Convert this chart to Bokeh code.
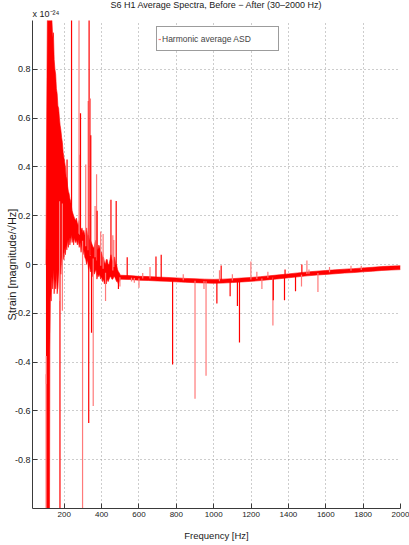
import numpy as np
from bokeh.plotting import figure
from bokeh.models import (ColumnDataSource, Range1d, FixedTicker, Title, Legend, LegendItem)
from bokeh.embed import file_html
from bokeh.resources import INLINE

# ---------------- data (strain in units of 1e-24 /sqrt(Hz)) ----------------
band_freq = [102, 106, 110, 116, 121, 123, 126, 130, 134, 138, 142, 146, 150, 154, 158, 162, 166, 170,
             174, 178, 182, 186, 190, 194, 198, 202, 206, 210, 214, 218, 222, 226, 230, 234, 238, 242,
             246, 250, 255, 260, 265, 270, 275, 280, 285, 290, 295, 300, 305, 310, 315, 320, 325, 330,
             335, 340, 345, 350, 355, 360, 365, 370, 375, 380, 385, 390, 395, 400, 405, 410, 415, 420,
             425, 430, 435, 440, 445, 450, 455, 460, 465, 470, 475, 480, 485, 490, 495, 500,
             550, 600, 650, 700, 750, 800, 850, 900, 950, 1000, 1050, 1100, 1150, 1200, 1250, 1300,
             1350, 1400, 1450, 1500, 1550, 1600, 1650, 1700, 1750, 1800, 1850, 1900, 1950, 2000]
band_hi = [0.0, 0.6, 1.05, 1.05, 1.05, 1.05, 1.05, 1.05, 1.0, 0.93, 0.95, 0.84, 0.8, 0.78, 0.72, 0.7, 0.65, 0.64,
           0.6, 0.57, 0.55, 0.52, 0.5, 0.46, 0.44, 0.42, 0.4, 0.36, 0.35, 0.32, 0.3, 0.29, 0.27, 0.26, 0.24, 0.22,
           0.21, 0.2, 0.19, 0.18, 0.19, 0.17, 0.16, 0.18, 0.15, 0.14, 0.15, 0.13, 0.14, 0.12, 0.13, 0.15, 0.12, 0.12,
           0.1, 0.1, 0.09, 0.08, 0.07, 0.07, 0.09, 0.1, 0.06, 0.06, 0.08, 0.07, 0.05, 0.05, 0.03, 0.03, 0.01, 0.0,
           0.02, 0.02, 0.0, 0.0, 0.02, 0.04, 0.02, 0.01, 0.03, 0.03, 0.0, 0.0, -0.02, -0.03, -0.035, -0.044,
           -0.0455, -0.0485, -0.0495, -0.0515, -0.053, -0.055, -0.057, -0.0585, -0.06, -0.061, -0.06, -0.058,
           -0.0555, -0.053, -0.05, -0.046, -0.0425, -0.0385, -0.0345, -0.0305, -0.0275, -0.0245, -0.022, -0.019,
           -0.017, -0.014, -0.0115, -0.0085, -0.0065, -0.005]
band_lo = [-1.05, -1.05, -1.05, -1.05, -1.05, -0.35, -0.12, -0.15, -0.05, -0.1, -0.02, -0.12, -0.06, -0.1, -0.03,
           -0.12, -0.09, -0.02, -0.1, 0.0, -0.04, 0.03, 0.0, 0.05, 0.02, 0.07, 0.04, 0.08, 0.06, 0.1, 0.07, 0.11,
           0.08, 0.1, 0.12, 0.09, 0.11, 0.08, 0.11, 0.09, 0.1, 0.08, 0.1, 0.07, 0.09, 0.05, 0.08, 0.04, 0.06, 0.03,
           0.02, 0.0, 0.02, -0.02, 0.0, -0.03, -0.01, -0.05, -0.02, -0.04, -0.03, -0.02, -0.06, -0.04, -0.05, -0.04,
           -0.06, -0.05, -0.07, -0.06, -0.08, -0.07, -0.08, -0.06, -0.07, -0.06, -0.05, -0.05, -0.06, -0.06, -0.05,
           -0.05, -0.06, -0.07, -0.07, -0.08, -0.07, -0.06,
           -0.0615, -0.0645, -0.0655, -0.0675, -0.069, -0.071, -0.073, -0.0745, -0.076, -0.077, -0.076, -0.074,
           -0.0715, -0.069, -0.066, -0.062, -0.0585, -0.0545, -0.0505, -0.0465, -0.0435, -0.0405, -0.038, -0.035,
           -0.033, -0.030, -0.0275, -0.0245, -0.0225, -0.021]

# narrow lines / spikes: frequency, tip value (beyond +-1 = off the axis), shade
spike_freq = [103, 104, 177, 175, 190, 215, 239, 279, 283, 287, 298, 315, 328, 333, 331, 340, 342, 346, 355,
              365, 373, 376, 395, 408, 421, 450, 460, 465, 478, 490, 498, 537, 560, 575, 600, 620, 659, 691,
              719, 780, 837, 900, 948, 959, 1017, 1031, 1040, 1088, 1100, 1127, 1138, 1199, 1231, 1258, 1290,
              1317, 1319, 1379, 1382, 1438, 1470, 1472, 1499, 1510, 1558, 1620, 1735, 1790]
spike_tip = [-1.05, -0.49, -1.05, -0.15, -0.19, 0.43, 1.05, 1.05, 0.45, 0.62, -1.05, 0.41, 0.67, 1.05, -0.65,
             0.68, 0.53, -0.28, -0.58, 0.24, 0.37, 0.22, 0.135, 0.125, -0.15, 0.265, 0.12, 0.1, 0.26, -0.1, -0.09,
             0.03, -0.07, -0.075, -0.095, -0.035, -0.01, 0.033, 0.04, -0.41, -0.04, -0.55, -0.1, -0.456, -0.16,
             -0.024, -0.004, -0.13, -0.04, -0.17, -0.32, 0.012, -0.03, -0.1, -0.03, -0.25, -0.147, -0.147,
             -0.02, -0.11, -0.09, 0.0, 0.016, -0.02, -0.113, -0.01, -0.005, -0.005]
spike_shade = ["light", "light", "dark", "light", "light", "dark", "dark", "light", "light", "dark", "light",
               "light", "light", "dark", "dark", "light", "dark", "dark", "light", "light", "light", "dark",
               "light", "light", "light", "dark", "light", "light", "dark", "dark", "light", "dark", "light",
               "light", "light", "light", "light", "dark", "dark", "dark", "light", "light", "light", "light",
               "dark", "light", "dark", "dark", "light", "dark", "dark", "light", "light", "light", "light",
               "light", "dark", "dark", "dark", "dark", "light", "dark", "light", "light", "light", "light",
               "light", "light"]

x_ticks = [200, 400, 600, 800, 1000, 1200, 1400, 1600, 1800, 2000]
y_ticks = [-0.8, -0.6, -0.4, -0.2, 0.0, 0.2, 0.4, 0.6, 0.8]
y_tick_labels = ["-0.8", "-0.6", "-0.4", "-0.2", "0", "0.2", "0.4", "0.6", "0.8"]

title_text = "S6 H1 Average Spectra, Before \u2212 After (30\u20132000 Hz)"
scale_text = "x 10\u207b\u00b2\u2074"
x_label = "Frequency [Hz]"
y_label = "Strain [magnitude/\u221aHz]"
legend_label = "Harmonic average ASD"

# axis limits
X_MIN, X_MAX = 30, 2000
Y_MIN, Y_MAX = -1.0, 1.0

# ---------------- figure ----------------
FONT = "Liberation Sans"
RED = "#ff0000"
PINK = "#ff7a7a"
AXC = "#3a3a3a"
GRIDC = "#9a9a9a"
TXT = "#1a1a1a"

p = figure(width=409, height=545, output_backend="svg", toolbar_location=None,
           x_range=Range1d(X_MIN, X_MAX), y_range=Range1d(Y_MIN, Y_MAX),
           min_border_left=32, min_border_right=9, min_border_top=20, min_border_bottom=37)
p.outline_line_color = None
p.background_fill_color = "white"
p.border_fill_color = "white"

# scale factor (nearest the frame) and the main title (outermost)
p.add_layout(Title(text=scale_text, align="left", text_font=FONT, text_font_size="9px",
                   text_font_style="normal", text_color=TXT, standoff=3), "above")
p.title.text = title_text
p.title.align = "center"
p.title.text_font = FONT
p.title.text_font_size = "9px"
p.title.text_font_style = "normal"
p.title.text_color = TXT
p.title.standoff = -8

# dotted grid
for g in (p.xgrid[0], p.ygrid[0]):
    g.grid_line_color = GRIDC
    g.grid_line_dash = "1 3"

band_src = ColumnDataSource(dict(f=band_freq, hi=band_hi, lo=band_lo))
p.varea(x="f", y1="lo", y2="hi", source=band_src, fill_color=RED)
p.line(x="f", y="hi", source=band_src, line_color=RED, line_width=0.6)
p.line(x="f", y="lo", source=band_src, line_color=RED, line_width=0.6)

mid = (np.array(band_hi) + np.array(band_lo)) / 2.0
spike_base = np.interp(spike_freq, band_freq, mid)
spike_color = [RED if s == "dark" else PINK for s in spike_shade]
spk_src = ColumnDataSource(dict(f=spike_freq, base=spike_base, tip=spike_tip, c=spike_color))
spikes = p.segment(x0="f", y0="base", x1="f", y1="tip", source=spk_src, line_color="c", line_width=1.2)

# axes
for ax in (p.xaxis[0], p.yaxis[0]):
    ax.axis_line_color = AXC
    ax.major_tick_line_color = AXC
    ax.major_tick_in = 5
    ax.major_tick_out = 0
    ax.minor_tick_line_color = None
    ax.major_label_text_color = TXT
    ax.major_label_text_font = FONT
    ax.axis_label_text_font = FONT
    ax.axis_label_text_font_style = "normal"
    ax.axis_label_text_color = TXT
p.xaxis.ticker = FixedTicker(ticks=x_ticks)
p.yaxis.ticker = FixedTicker(ticks=y_ticks)
p.yaxis.major_label_overrides = {t: s for t, s in zip(y_ticks, y_tick_labels)}
p.xaxis.major_label_text_font_size = "8px"
p.yaxis.major_label_text_font_size = "9px"
p.xaxis.major_label_standoff = 3
p.yaxis.major_label_standoff = 2
p.xaxis.axis_label = x_label
p.xaxis.axis_label_text_font_size = "9.5px"
p.xaxis.axis_label_standoff = 10
p.yaxis.axis_label = y_label
p.yaxis.axis_label_text_font_size = "11px"
p.yaxis.axis_label_standoff = -6

legend = Legend(items=[LegendItem(label=legend_label, renderers=[spikes])],
                location=(124, 457), padding=1, margin=0, spacing=0,
                glyph_width=3, glyph_height=10, label_standoff=1,
                label_width=115, label_height=21,
                label_text_font=FONT, label_text_font_size="8.5px",
                border_line_color=AXC, border_line_width=1,
                background_fill_color="white", background_fill_alpha=1)
p.add_layout(legend)

open("out.html", "w").write(file_html(p, INLINE))
